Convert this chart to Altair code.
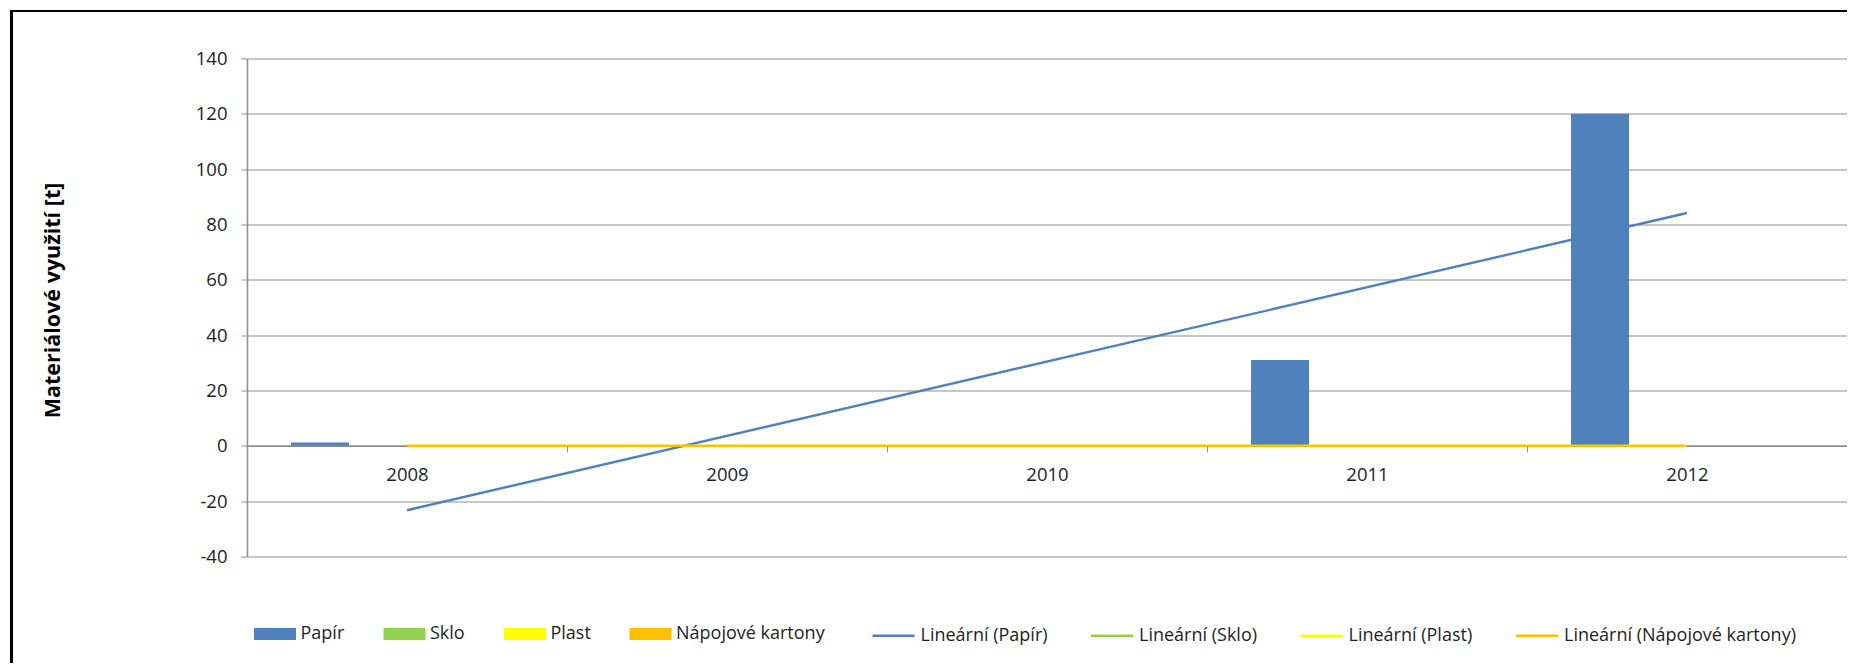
import altair as alt
import pandas as pd

years = [2008, 2009, 2010, 2011, 2012]
series = ["Papír", "Sklo", "Plast", "Nápojové kartony"]
papir = [1.2, 0, 0, 31, 120]
sklo = [0, 0, 0, 0, 0]
plast = [0, 0, 0, 0, 0]
kartony = [0, 0, 0, 0, 0]
colors = ["#4F81BD", "#92D050", "#FFFF00", "#FFC000"]
trend_names = ["Lineární (Papír)", "Lineární (Sklo)", "Lineární (Plast)", "Lineární (Nápojové kartony)"]
y_ticks = [-40, -20, 0, 20, 40, 60, 80, 100, 120, 140]

rows = []
for name, vals in zip(series, [papir, sklo, plast, kartony]):
    for yr, v in zip(years, vals):
        rows.append({"series": name, "year": yr, "yr": str(yr), "value": v})
df = pd.DataFrame(rows)

FONT = "Open Sans"
GRID = "#8e8e8e"
TXT = "#1e1e1e"
W, H = 1600, 498
Y_MIN, Y_MAX = -40, 140
zero_off = -H * (0 - Y_MIN) / (Y_MAX - Y_MIN)

yscale = alt.Scale(domain=[Y_MIN, Y_MAX], nice=False, zero=False)
xscale = alt.Scale(paddingInner=0, paddingOuter=0)

bars = alt.Chart(df).mark_bar().encode(
    x=alt.X("yr:N", scale=xscale, sort=[str(y) for y in years],
            axis=alt.Axis(title=None, labelAngle=0, offset=zero_off, tickBand="extent",
                          tickSize=6, tickColor=GRID, domainColor=GRID, domainWidth=1.5,
                          labelPadding=14, labelFont=FONT, labelFontSize=18.5,
                          labelColor=TXT, grid=False, zindex=0)),
    xOffset=alt.XOffset("series:N", sort=series,
                        scale=alt.Scale(domain=series, paddingInner=0, paddingOuter=0.759)),
    y=alt.Y("value:Q", scale=yscale,
            axis=alt.Axis(values=y_ticks, labelExpr="toString(datum.value)",
                          grid=True, gridColor=GRID, gridWidth=1.2,
                          domainColor=GRID, domainWidth=1.5, tickColor=GRID, tickSize=6,
                          labelPadding=14, labelFont=FONT, labelFontSize=18.5, labelColor=TXT,
                          title="Materiálové využití [t]", titleFont=FONT, titleFontSize=21.5,
                          titleFontWeight="bold", titleColor="#000000", titleAngle=270,
                          titleX=-194, titleY=241.5, titleAlign="center",
                          titleBaseline="middle", zindex=0)),
    fill=alt.Fill("series:N", scale=alt.Scale(domain=series, range=colors),
                  legend=alt.Legend(orient="none", legendX=7, legendY=554.5, direction="horizontal",
                                    title=None, symbolType="M-1,-0.29H1V0.29H-1Z",
                                    symbolSize=1764, symbolStrokeWidth=0, labelOffset=4.5,
                                    columnPadding=38.5, labelFont=FONT, labelFontSize=18,
                                    labelColor=TXT, labelLimit=400, padding=0)),
)

trend = alt.Chart(df).transform_regression(
    "year", "value", groupby=["series"], method="linear"
).transform_calculate(
    yr="toString(round(datum.year))",
    trend="'Lineární (' + datum.series + ')'",
).mark_line(strokeWidth=2.4).encode(
    x=alt.X("yr:N", sort=[str(y) for y in years]),
    y=alt.Y("value:Q", scale=yscale),
    stroke=alt.Stroke("trend:N", scale=alt.Scale(domain=trend_names, range=colors),
                      legend=alt.Legend(orient="none", legendX=624, legendY=554.5,
                                        direction="horizontal", title=None, symbolType="stroke",
                                        symbolSize=1764, symbolStrokeWidth=2.5, labelOffset=4.5,
                                        columnPadding=37.5, labelFont=FONT, labelFontSize=18,
                                        labelColor=TXT, labelLimit=400, padding=0)),
    order=alt.Order("trend_order:Q"),
).transform_calculate(trend_order="indexof(" + str(trend_names).replace("'", '"') + ", datum.trend)")

frame_left = alt.Chart(df).mark_rule(color="#000000", strokeWidth=2.2, clip=False).encode(
    x=alt.value(-235.5), y=alt.value(-47.5), y2=alt.value(H + 160))
frame_top = alt.Chart(df).mark_rule(color="#000000", strokeWidth=2.2, clip=False).encode(
    x=alt.value(-236.6), x2=alt.value(W + 40), y=alt.value(-47.5))

chart = alt.layer(bars, trend, frame_left, frame_top).resolve_scale(
    fill="independent", stroke="independent"
).properties(
    width=W, height=H,
    autosize=alt.AutoSizeParams(type="none"),
    padding={"left": 239, "top": 50.5, "right": 0, "bottom": 106},
    background="white",
).configure_view(stroke=None)

chart.save("out.html", embed_options={"renderer": "svg", "actions": False})
